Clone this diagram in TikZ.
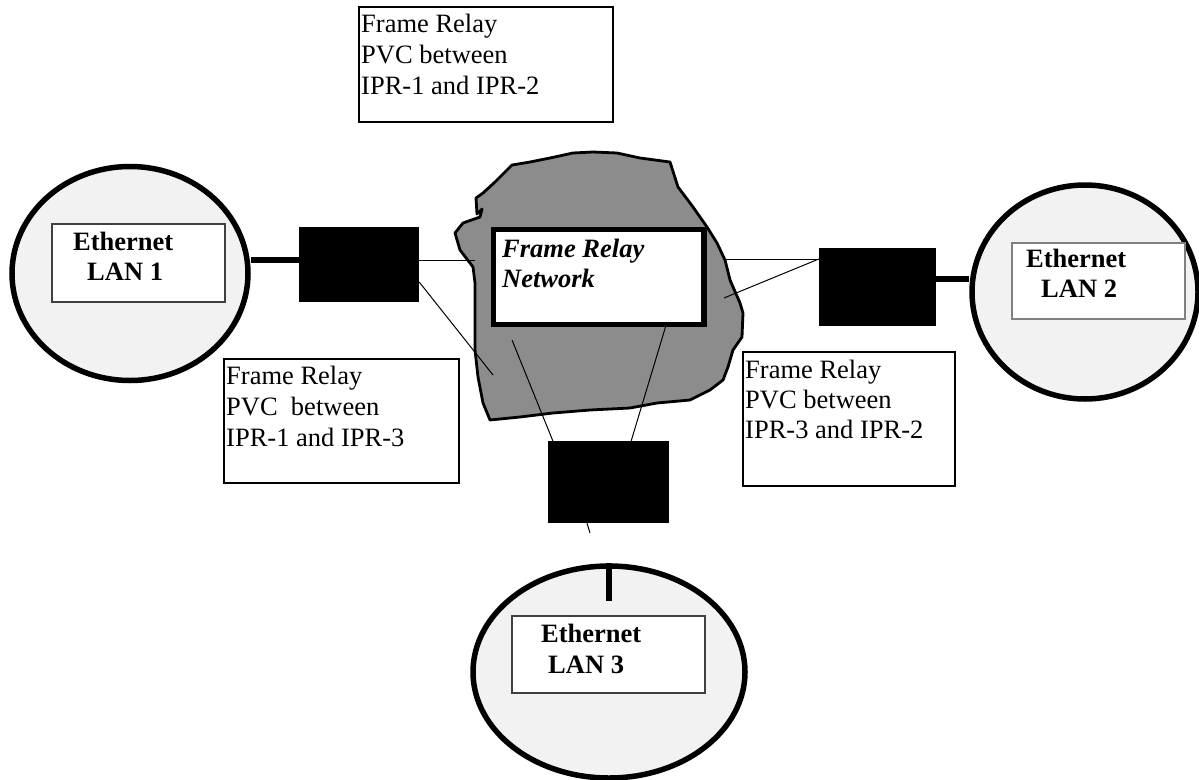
\documentclass[tikz,border=0pt]{standalone}
\usepackage{fontspec}
\setmainfont{Liberation Serif}
\usetikzlibrary{shapes.geometric}
\definecolor{lanfill}{HTML}{F2F2F2}
\definecolor{cloudfill}{HTML}{8C8C8C}
\definecolor{lblborder}{HTML}{404040}
\begin{document}
\begin{tikzpicture}[x=1pt,y=-1pt,
  txt/.style={font=\fontsize{26.5}{31}\selectfont, inner sep=0pt, anchor=base west},
  btxt/.style={font=\fontsize{26.5}{31}\selectfont\bfseries, inner sep=0pt, anchor=base west},
  bitxt/.style={font=\fontsize{26.5}{31}\selectfont\bfseries\itshape, inner sep=0pt, anchor=base west},
  lan/.style={ellipse, draw=black, line width=5.5pt, fill=lanfill, inner sep=0pt},
  lanlabel/.style={rectangle, draw=lblborder, line width=1.5pt, fill=white, inner sep=0pt},
  pvcbox/.style={rectangle, draw=black, line width=1.8pt, fill=white, inner sep=0pt},
  router/.style={rectangle, fill=black, inner sep=0pt},
  link/.style={line width=5.5pt},
  thin/.style={line width=1pt},
]
\useasboundingbox (0,0) rectangle (1199,779);
\fill[white] (0,0) rectangle (1199,779);

% LAN ellipses
\node[lan, minimum width=236pt, minimum height=214pt] (lan1) at (130,273.5) {};
\node[lan, minimum width=226pt, minimum height=214pt] (lan2) at (1085,292) {};
\node[lan, minimum width=272pt, minimum height=212pt] (lan3) at (609,672) {};

% LAN labels
\node[lanlabel, minimum width=173pt, minimum height=78pt] (lab1) at (138.5,263) {};
\node[btxt] (lab1a) at (73,250) {Ethernet};
\node[btxt] (lab1b) at (87,280) {LAN 1};
\node[lanlabel, draw=gray, minimum width=173pt, minimum height=76pt] (lab2) at (1098.5,281) {};
\node[btxt] (lab2a) at (1026,267) {Ethernet};
\node[btxt] (lab2b) at (1041,297) {LAN 2};
\node[lanlabel, minimum width=193pt, minimum height=77pt] (lab3) at (608.5,654.5) {};
\node[btxt] (lab3a) at (541,642) {Ethernet};
\node[btxt] (lab3b) at (548,673) {LAN 3};

% Cloud
\draw[fill=cloudfill, line width=2.8pt, line join=round]
  (512,165) -- (530,162) -- (550,158) -- (573,153) -- (593,152) -- (617,153)
  -- (640,158) -- (670,162) -- (678,187) -- (693,207) -- (707,227) -- (717,243)
  -- (725,260) -- (730,280) -- (740,303) -- (743,313) -- (742,337) -- (733,350)
  -- (728,367) -- (723,380) -- (710,390) -- (690,400) -- (657,403) -- (630,408)
  -- (590,410) -- (553,413) -- (520,417) -- (490,420) -- (483,403) -- (478,377)
  -- (475,350) -- (475,317) -- (475,283) -- (473,267) -- (460,250) -- (455,233)
  -- (463,223) -- (480,217) -- (482,209) -- (477,214) -- (476,198) -- (483,193)
  -- (495,182) -- cycle;

% Inner box
\node[rectangle, draw=black, line width=5.5pt, fill=white, inner sep=0pt,
      minimum width=210.5pt, minimum height=95pt] (frn) at (598.75,277) {};
\node[bitxt] (frna) at (502,257) {Frame Relay};
\node[bitxt] (frnb) at (502,287) {Network};

% Routers
\node[router, minimum width=120pt, minimum height=75pt] (r1) at (359,264.5) {};
\node[router, minimum width=117pt, minimum height=78pt] (r2) at (877.5,287) {};
\node[router, minimum width=121pt, minimum height=82pt] (r3) at (608.5,482) {};

% connector end points
\coordinate (c1) at (475,260);
\coordinate (c2) at (493,375);
\coordinate (c3) at (724,259);
\coordinate (c4) at (724,298);
\coordinate (c5) at (512,340);
\coordinate (c6) at (667,322);
\coordinate (c7) at (590,533);

% Thick LAN links
\draw[link] ([yshift=4.5pt]r1.west) -- ([yshift=4.5pt]r1.west -| lan1.east);
\draw[link] ([yshift=8pt]r2.east) -- ([yshift=8pt]r2.east -| lan2.west);
\draw[link] (lan3.north) -- ([yshift=-38pt]lan3.north);

% Thin PVC lines
\draw[thin] ([yshift=4.5pt]r1.east) -- (c1);
\draw[thin] ([yshift=-17.5pt]r1.east) -- (c2);
\draw[thin] ([yshift=28pt]r2.west) -- (c3);
\draw[thin] ([yshift=28pt]r2.west) -- (c4);
\draw[thin] ([xshift=5pt]r3.north west) -- (c5);
\draw[thin] ([xshift=-38pt]r3.north east) -- (c6);
\draw[thin] ([xshift=-21.5pt]r3.south) -- (c7);

% PVC boxes
\node[pvcbox, minimum width=254pt, minimum height=115pt] (pvc12) at (486,64.2) {};
\node[txt] (pvc12a) at (361,32) {Frame Relay};
\node[txt] (pvc12b) at (361,63) {PVC between};
\node[txt] (pvc12c) at (361,94.5) {IPR-1 and IPR-2};

\node[pvcbox, minimum width=235pt, minimum height=124pt] (pvc13) at (341.5,421) {};
\node[txt] (pvc13a) at (226,384) {Frame Relay};
\node[txt] (pvc13b) at (226,415) {PVC\ \ between};
\node[txt] (pvc13c) at (226,446) {IPR-1 and IPR-3};

\node[pvcbox, minimum width=212pt, minimum height=134pt] (pvc32) at (849,419) {};
\node[txt] (pvc32a) at (745,378) {Frame Relay};
\node[txt] (pvc32b) at (745,408) {PVC between};
\node[txt] (pvc32c) at (745,438) {IPR-3 and IPR-2};
\end{tikzpicture}
\end{document}
